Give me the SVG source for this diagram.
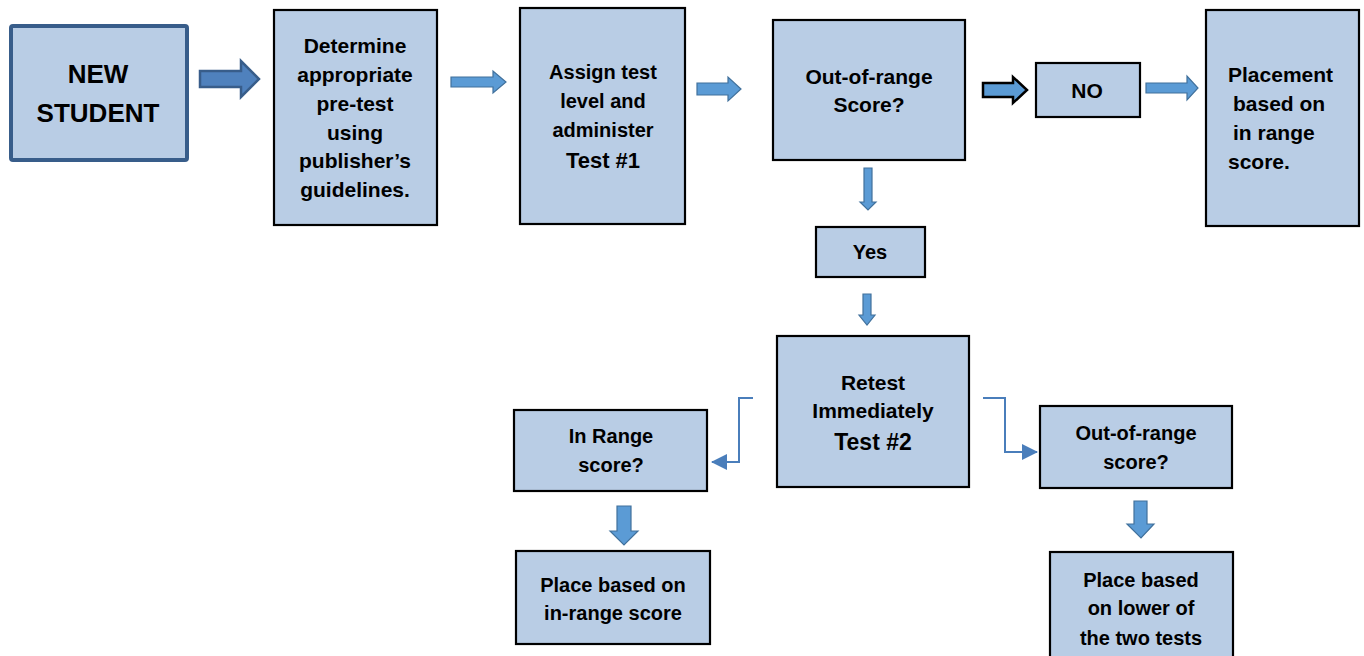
<svg xmlns="http://www.w3.org/2000/svg" width="1364" height="656" viewBox="0 0 1364 656">
<style>
.box{fill:#B9CDE5;stroke:#000;stroke-width:2.2}
.t{font-family:"Liberation Sans",Arial,sans-serif;font-weight:bold;fill:#000;text-anchor:middle}
.ba{fill:#5B9BD5;stroke:#41719C;stroke-width:1.2}
.el{fill:none;stroke:#4A7EBB;stroke-width:2}
</style>
<defs>
<marker id="ah" markerWidth="8" markerHeight="8" refX="7" refY="4" orient="auto" markerUnits="userSpaceOnUse" viewBox="0 0 8 8">
<path d="M0,0 L8,4 L0,8 z" fill="#4A7EBB"/>
</marker>
<marker id="ah2" markerWidth="16" markerHeight="16" refX="15" refY="8" orient="auto" markerUnits="userSpaceOnUse" viewBox="0 0 16 16">
<path d="M0,0 L16,8 L0,16 z" fill="#4A7EBB"/>
</marker>
</defs>
<rect width="1364" height="656" fill="#fff"/>

<g id="connectors">
<polygon points="200,71 241,71 241,61 259,79 241,97 241,87 200,87" fill="#4F81BD" stroke="#385D8A" stroke-width="2.5"/>
<polygon class="ba" points="451,77 493,77 493,71 506,82 493,93 493,87 451,87"/>
<polygon class="ba" points="697,83 728,83 728,77 741,89 728,101 728,95 697,95"/>
<polygon points="983,83 1013,83 1013,77 1027,90 1013,103 1013,97 983,97" fill="#5B9BD5" stroke="#000" stroke-width="2.5"/>
<polygon class="ba" points="1146,83 1187,83 1187,76 1198,88 1187,100 1187,93 1146,93"/>
<polygon class="ba" points="864,168 872,168 872,202 876,202 868,210 860,202 864,202"/>
<polygon class="ba" points="863,294 871,294 871,315 875,315 867,325 859,315 863,315"/>
<polyline class="el" points="753,398 739,398 739,462 712,462" marker-end="url(#ah2)"/>
<polyline class="el" points="983,398 1005,398 1005,452 1037,452" marker-end="url(#ah2)"/>
<polygon class="ba" points="617,506 631,506 631,531 638,531 624,545 610,531 617,531"/>
<polygon class="ba" points="1134,501 1147,501 1147,524 1154,524 1141,538 1127,524 1134,524"/>
</g>

<g id="n-new-student">
<rect x="11" y="26" width="176" height="134" rx="2" fill="#B9CDE5" stroke="#385D8A" stroke-width="4"/>
<text class="t" x="98" y="83" font-size="26">NEW</text>
<text class="t" x="98" y="122" font-size="26">STUDENT</text>
</g>

<g id="n-determine">
<rect class="box" x="274" y="10" width="163" height="215"/>
<text class="t" x="355" y="53" font-size="21">Determine</text>
<text class="t" x="355" y="82" font-size="21">appropriate</text>
<text class="t" x="355" y="111" font-size="21">pre-test</text>
<text class="t" x="355" y="140" font-size="21">using</text>
<text class="t" x="355" y="168" font-size="21">publisher’s</text>
<text class="t" x="355" y="197" font-size="21">guidelines.</text>
</g>

<g id="n-assign">
<rect class="box" x="520" y="8" width="165" height="216"/>
<text class="t" x="603" y="79" font-size="20">Assign test</text>
<text class="t" x="603" y="108" font-size="20">level and</text>
<text class="t" x="603" y="137" font-size="20">administer</text>
<text class="t" x="603" y="168" font-size="22">Test #1</text>
</g>

<g id="n-out-of-range">
<rect class="box" x="773" y="20" width="192" height="140"/>
<text class="t" x="869" y="84" font-size="21">Out-of-range</text>
<text class="t" x="869" y="112" font-size="21">Score?</text>
</g>

<g id="n-no">
<rect class="box" x="1036" y="63" width="104" height="54"/>
<text class="t" x="1087" y="98" font-size="21">NO</text>
</g>

<g id="n-placement">
<rect class="box" x="1206" y="10" width="153" height="216"/>
<text class="t" x="1228" y="82" font-size="21" text-anchor="start" style="text-anchor:start">Placement</text>
<text class="t" x="1233" y="111" font-size="21" style="text-anchor:start">based on</text>
<text class="t" x="1233" y="140" font-size="21" style="text-anchor:start">in range</text>
<text class="t" x="1228" y="169" font-size="21" style="text-anchor:start">score.</text>
</g>

<g id="n-yes">
<rect class="box" x="816" y="227" width="109" height="50"/>
<text class="t" x="870" y="259" font-size="20">Yes</text>
</g>

<g id="n-retest">
<rect class="box" x="777" y="336" width="192" height="151"/>
<text class="t" x="873" y="390" font-size="21">Retest</text>
<text class="t" x="873" y="418" font-size="21">Immediately</text>
<text class="t" x="873" y="450" font-size="23">Test #2</text>
</g>

<g id="n-in-range">
<rect class="box" x="514" y="410" width="193" height="81"/>
<text class="t" x="611" y="443" font-size="20">In Range</text>
<text class="t" x="611" y="472" font-size="20">score?</text>
</g>

<g id="n-out-of-range-2">
<rect class="box" x="1040" y="406" width="192" height="82"/>
<text class="t" x="1136" y="440" font-size="20">Out-of-range</text>
<text class="t" x="1136" y="469" font-size="20">score?</text>
</g>

<g id="n-place-in-range">
<rect class="box" x="516" y="551" width="194" height="93"/>
<text class="t" x="613" y="592" font-size="20">Place based on</text>
<text class="t" x="613" y="620" font-size="20">in-range score</text>
</g>

<g id="n-place-lower">
<rect class="box" x="1050" y="552" width="183" height="110"/>
<text class="t" x="1141" y="587" font-size="20">Place based</text>
<text class="t" x="1141" y="615" font-size="20">on lower of</text>
<text class="t" x="1141" y="645" font-size="20">the two tests</text>
</g>
</svg>
